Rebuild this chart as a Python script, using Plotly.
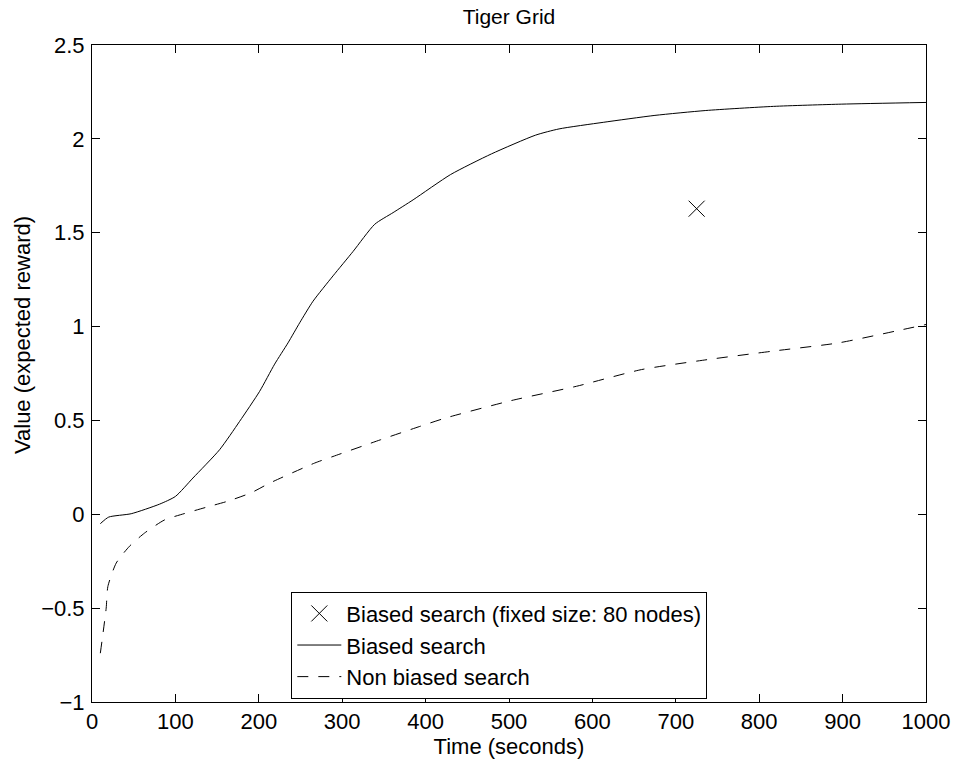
import plotly.graph_objects as go

# Biased search (solid)
biased_t = [10, 20, 47, 81, 100, 121, 153, 177, 201, 219, 235, 249, 265, 289, 313, 339,
            361, 385, 430, 479, 532, 560, 613, 675, 736, 817, 899, 1000]
biased_v = [-0.05, -0.015, 0.003, 0.054, 0.095, 0.193, 0.344, 0.495, 0.655, 0.80, 0.913,
            1.02, 1.135, 1.27, 1.40, 1.545, 1.607, 1.675, 1.81, 1.92, 2.02, 2.053, 2.088,
            2.125, 2.151, 2.173, 2.185, 2.194]

# Non biased search (dashed)
nonbiased_t = [10, 17, 19, 29, 45, 63, 87, 111, 139, 163, 191, 213, 267, 289, 346, 393,
               424, 503, 581, 659, 738, 816, 895, 973, 1000]
nonbiased_v = [-0.74, -0.5, -0.385, -0.26, -0.17, -0.10, -0.03, 0.004, 0.04, 0.07, 0.115,
               0.166, 0.273, 0.308, 0.397, 0.468, 0.513, 0.606, 0.682, 0.771, 0.824, 0.869,
               0.913, 0.985, 1.011]

# Fixed size point
fixed_t = [725]
fixed_v = [1.628]

x_ticks = list(range(0, 1001, 100))
y_ticks = [-1, -0.5, 0, 0.5, 1, 1.5, 2, 2.5]

FONT = "Liberation Sans, Arial, Helvetica, sans-serif"
FS = 22

fig = go.Figure()
fig.add_trace(go.Scatter(
    x=fixed_t, y=fixed_v, mode="markers", name="Biased search (fixed size: 80 nodes)",
    marker=dict(symbol="x-thin", size=16, line=dict(color="black", width=1), color="black")))
fig.add_trace(go.Scatter(
    x=biased_t, y=biased_v, mode="lines", name="Biased search",
    line=dict(color="black", width=1, shape="spline", smoothing=0.6)))
fig.add_trace(go.Scatter(
    x=nonbiased_t, y=nonbiased_v, mode="lines", name="Non biased search",
    line=dict(color="black", width=1, dash="11px,10px", shape="spline", smoothing=0.6)))

axis_common = dict(
    showline=True, linecolor="black", linewidth=1, mirror="ticks",
    ticks="inside", ticklen=8, tickcolor="black", tickwidth=1,
    showgrid=False, zeroline=False, automargin=False,
    tickfont=dict(family=FONT, size=FS, color="black"),
)

fig.update_layout(
    width=956, height=761,
    margin=dict(l=92, r=30, t=45, b=59),
    paper_bgcolor="white", plot_bgcolor="white",
    font=dict(family=FONT, size=FS, color="black"),
    title=dict(text="Tiger Grid", x=0.5, xref="paper", y=1 - 17 / 761, yanchor="middle",
               font=dict(family=FONT, size=FS - 1, color="black")),
    xaxis=dict(range=[0, 1000], tickvals=x_ticks,
               title=dict(text="Time (seconds)", standoff=0,
                          font=dict(family=FONT, size=FS, color="black")),
               **axis_common),
    yaxis=dict(range=[-1, 2.5], tickvals=y_ticks, ticklabelstandoff=2,
               **axis_common),
    legend=dict(x=0.239, y=0.168, xanchor="left", yanchor="top",
                bordercolor="black", borderwidth=1, bgcolor="white",
                font=dict(family=FONT, size=FS, color="black"),
                itemwidth=44, tracegroupgap=0),
    showlegend=True,
    annotations=[dict(text="Value (expected reward)", xref="paper", yref="paper",
                      x=-0.0827, y=0.5586, xanchor="center", yanchor="middle",
                      textangle=-90, showarrow=False,
                      font=dict(family=FONT, size=FS, color="black"))],
)

fig.write_html("out.html")
